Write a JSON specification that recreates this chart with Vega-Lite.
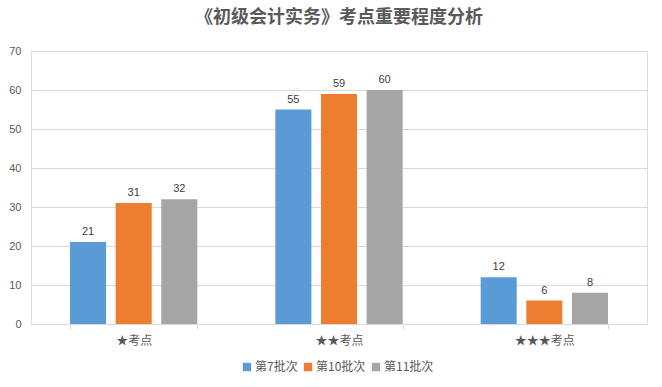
{
  "$schema": "https://vega.github.io/schema/vega-lite/v6.json",
  "width": 616,
  "height": 273,
  "autosize": {"type": "none"},
  "padding": {"left": 31, "top": 51, "right": 15, "bottom": 63},
  "background": "white",
  "title": {
    "text": "《初级会计实务》考点重要程度分析",
    "font": "Noto Sans CJK SC",
    "fontSize": 18,
    "fontWeight": "bold",
    "color": "#595959",
    "anchor": "middle",
    "offset": 18
  },
  "data": {
    "values": [
      {"category": "★考点", "series": "第7批次", "value": 21},
      {"category": "★考点", "series": "第10批次", "value": 31},
      {"category": "★考点", "series": "第11批次", "value": 32},
      {"category": "★★考点", "series": "第7批次", "value": 55},
      {"category": "★★考点", "series": "第10批次", "value": 59},
      {"category": "★★考点", "series": "第11批次", "value": 60},
      {"category": "★★★考点", "series": "第7批次", "value": 12},
      {"category": "★★★考点", "series": "第10批次", "value": 6},
      {"category": "★★★考点", "series": "第11批次", "value": 8}
    ]
  },
  "encoding": {
    "x": {
      "field": "category", "type": "nominal", "sort": null, "title": null,
      "scale": {"paddingInner": 0.38, "paddingOuter": 0.19},
      "axis": {
        "labelAngle": 0, "labelFont": "Noto Sans CJK SC", "labelFontSize": 12,
        "labelColor": "#595959", "domainColor": "#d9d9d9", "tickColor": "#d9d9d9",
        "tickBand": "extent", "tickSize": 5, "labelPadding": 6
      }
    },
    "xOffset": {
      "field": "series", "type": "nominal", "sort": ["第7批次", "第10批次", "第11批次"],
      "scale": {"paddingInner": 0.21, "paddingOuter": 0}
    },
    "y": {
      "field": "value", "type": "quantitative", "title": null,
      "scale": {"domain": [0, 70]},
      "axis": {
        "values": [0, 10, 20, 30, 40, 50, 60, 70], "domain": false, "ticks": false,
        "gridColor": "#d9d9d9", "labelFont": "Liberation Sans", "labelFontSize": 11,
        "labelColor": "#595959", "labelPadding": 10
      }
    }
  },
  "layer": [
    {
      "mark": {"type": "bar"},
      "encoding": {
        "color": {
          "field": "series", "type": "nominal",
          "sort": ["第7批次", "第10批次", "第11批次"],
          "scale": {"domain": ["第7批次", "第10批次", "第11批次"], "range": ["#5B9BD5", "#ED7D31", "#A5A5A5"]},
          "legend": {
            "title": null, "orient": "none", "legendX": 210, "legendY": 310, "direction": "horizontal",
            "symbolType": "square", "symbolSize": 70, "symbolStrokeWidth": 0,
            "labelFont": "Noto Sans CJK SC", "labelFontSize": 12, "labelColor": "#595959",
            "columnPadding": 4, "symbolOffset": 0, "labelOffset": 2
          }
        }
      }
    },
    {
      "mark": {"type": "text", "dy": -10, "font": "Liberation Sans", "fontSize": 11, "color": "#404040"},
      "encoding": {"text": {"field": "value", "type": "quantitative"}}
    }
  ]
}
